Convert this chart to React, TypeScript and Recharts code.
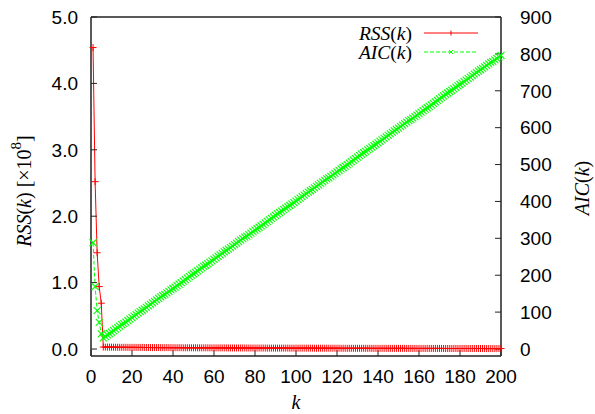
import React from 'react';
import { LineChart, Line, XAxis, YAxis, ReferenceLine, Label } from 'recharts';

// RSS(k) in units of 1e8, k = 1..200
const rss = [
  4.54, 2.52, 1.45, 0.94, 0.69, 0.030, 0.029, 0.029, 0.028, 0.028,
  0.027, 0.027, 0.027, 0.026, 0.026, 0.026, 0.026, 0.025, 0.025, 0.025,
  0.025, 0.024, 0.024, 0.024, 0.024, 0.023, 0.023, 0.023, 0.023, 0.022,
  0.022, 0.022, 0.022, 0.021, 0.021, 0.021, 0.021, 0.021, 0.020, 0.020,
  0.020, 0.020, 0.020, 0.020, 0.019, 0.019, 0.019, 0.019, 0.019, 0.019,
  0.019, 0.018, 0.018, 0.018, 0.018, 0.018, 0.018, 0.018, 0.017, 0.017,
  0.017, 0.017, 0.017, 0.017, 0.017, 0.017, 0.016, 0.016, 0.016, 0.016,
  0.016, 0.016, 0.016, 0.016, 0.016, 0.015, 0.015, 0.015, 0.015, 0.015,
  0.015, 0.015, 0.015, 0.015, 0.015, 0.014, 0.014, 0.014, 0.014, 0.014,
  0.014, 0.014, 0.014, 0.014, 0.014, 0.014, 0.013, 0.013, 0.013, 0.013,
  0.013, 0.013, 0.013, 0.013, 0.013, 0.013, 0.013, 0.013, 0.012, 0.012,
  0.012, 0.012, 0.012, 0.012, 0.012, 0.012, 0.012, 0.012, 0.012, 0.012,
  0.012, 0.011, 0.011, 0.011, 0.011, 0.011, 0.011, 0.011, 0.011, 0.011,
  0.011, 0.011, 0.011, 0.011, 0.011, 0.011, 0.010, 0.010, 0.010, 0.010,
  0.010, 0.010, 0.010, 0.010, 0.010, 0.010, 0.010, 0.010, 0.010, 0.010,
  0.010, 0.010, 0.010, 0.009, 0.009, 0.009, 0.009, 0.009, 0.009, 0.009,
  0.009, 0.009, 0.009, 0.009, 0.009, 0.009, 0.009, 0.009, 0.009, 0.009,
  0.009, 0.008, 0.008, 0.008, 0.008, 0.008, 0.008, 0.008, 0.008, 0.008,
  0.008, 0.008, 0.008, 0.008, 0.008, 0.008, 0.008, 0.008, 0.008, 0.008,
  0.008, 0.007, 0.007, 0.007, 0.007, 0.007, 0.007, 0.007, 0.007, 0.007,
];

// AIC(k), k = 1..200
const aic = [
  288, 169, 104, 72, 41, 30, 34, 38, 42, 46,
  50, 54, 58, 62, 66, 69, 73, 77, 81, 85,
  89, 93, 97, 101, 105, 109, 113, 117, 121, 125,
  129, 133, 137, 141, 145, 148, 152, 156, 160, 164,
  168, 172, 176, 180, 184, 188, 192, 196, 200, 204,
  208, 212, 216, 220, 224, 227, 231, 235, 239, 243,
  247, 251, 255, 259, 263, 267, 271, 275, 279, 283,
  287, 291, 295, 299, 303, 306, 310, 314, 318, 322,
  326, 330, 334, 338, 342, 346, 350, 354, 358, 362,
  366, 370, 374, 378, 382, 385, 389, 393, 397, 401,
  405, 409, 413, 417, 421, 425, 429, 433, 437, 441,
  445, 449, 453, 457, 461, 464, 468, 472, 476, 480,
  484, 488, 492, 496, 500, 504, 508, 512, 516, 520,
  524, 528, 532, 536, 540, 543, 547, 551, 555, 559,
  563, 567, 571, 575, 579, 583, 587, 591, 595, 599,
  603, 607, 611, 615, 619, 622, 626, 630, 634, 638,
  642, 646, 650, 654, 658, 662, 666, 670, 674, 678,
  682, 686, 690, 694, 698, 701, 705, 709, 713, 717,
  721, 725, 729, 733, 737, 741, 745, 749, 753, 757,
  761, 765, 769, 773, 777, 780, 784, 788, 792, 796,
];

const xTicks = [0, 20, 40, 60, 80, 100, 120, 140, 160, 180, 200];
const leftTicks = [0, 1, 2, 3, 4, 5];
const rightTicks = [0, 100, 200, 300, 400, 500, 600, 700, 800, 900];

const data = rss.map((v, i) => ({ k: i + 1, rss: v, aic: aic[i] }));

const RED = '#ff0000';
const GREEN = '#00ff00';
const SANS = '"Liberation Sans", Arial, sans-serif';
const SERIF = '"Liberation Serif", "Times New Roman", serif';

const tickStyle = { fill: '#000', fontSize: 19, fontFamily: SANS };
const frame = { stroke: '#222', strokeWidth: 1.5 };

const PlusDot = (props: any) => {
  const { cx, cy, index } = props;
  if (cx == null || cy == null) return null;
  return (
    <path key={`p-${index}`} d={`M${cx - 3.5},${cy}h7M${cx},${cy - 3.5}v7`} stroke={RED} strokeWidth={1} fill="none" />
  );
};

const CrossDot = (props: any) => {
  const { cx, cy, index } = props;
  if (cx == null || cy == null) return null;
  return (
    <path
      key={`x-${index}`}
      d={`M${cx - 3.5},${cy - 3.5}l7,7M${cx - 3.5},${cy + 3.5}l7,-7`}
      stroke={GREEN}
      strokeWidth={1.1}
      fill="none"
    />
  );
};

const LeftLabel = () => (
  <text x={24} y={191} transform="rotate(-90, 24, 191)" textAnchor="middle" dominantBaseline="central" fontFamily={SERIF} fontSize={20} fill="#000">
    <tspan fontStyle="italic">RSS</tspan>
    <tspan>(</tspan>
    <tspan fontStyle="italic">k</tspan>
    <tspan>) [×10</tspan>
    <tspan dy={-8} fontSize={15}>8</tspan>
    <tspan dy={8}>]</tspan>
  </text>
);

const RightLabel = () => (
  <text x={582} y={188} transform="rotate(-90, 582, 188)" textAnchor="middle" dominantBaseline="central" fontFamily={SERIF} fontSize={20} fill="#000">
    <tspan fontStyle="italic">AIC</tspan>
    <tspan>(</tspan>
    <tspan fontStyle="italic">k</tspan>
    <tspan>)</tspan>
  </text>
);

const BottomLabel = () => (
  <text x={296} y={402} textAnchor="middle" dominantBaseline="central" fontFamily={SERIF} fontSize={20} fontStyle="italic" fill="#000">
    k
  </text>
);

const legendRows = [
  { name: 'RSS', color: RED, dash: undefined as string | undefined, marker: 'plus', y: 33 },
  { name: 'AIC', color: GREEN, dash: '4 2', marker: 'cross', y: 52 },
];

// legend drawn as an svg overlay in the top-right of the plot
const LegendBox = () => (
  <svg width={595} height={80} style={{ position: 'absolute', left: 0, top: 0, pointerEvents: 'none' }}>
    {legendRows.map((r) => (
      <g key={r.name}>
        <text x={412} y={r.y} textAnchor="end" dominantBaseline="central" fontFamily={SERIF} fontSize={19.5} fill="#000">
          <tspan fontStyle="italic">{r.name}</tspan>
          <tspan>(</tspan>
          <tspan fontStyle="italic">k</tspan>
          <tspan>)</tspan>
        </text>
        <line x1={424} y1={r.y} x2={478} y2={r.y} stroke={r.color} strokeWidth={1} strokeDasharray={r.dash} />
        {r.marker === 'plus' ? (
          <path d={`M451,${r.y - 2.5}v5`} stroke={r.color} strokeWidth={1} />
        ) : (
          <path d={`M449,${r.y - 2}l4,4M449,${r.y + 2}l4,-4`} stroke={r.color} strokeWidth={1} />
        )}
      </g>
    ))}
  </svg>
);

export default function App() {
  return (
    <div style={{ position: 'absolute', left: 0, top: 0, width: 595, height: 414, background: '#fff' }}>
      <LineChart width={595} height={414} data={data} margin={{ top: 17, right: 0, bottom: 0, left: 0 }}>
        <XAxis
          dataKey="k"
          type="number"
          domain={[0, 200]}
          ticks={xTicks}
          interval={0}
          height={58}
          tickSize={-6}
          tickMargin={20}
          axisLine={frame}
          tickLine={{ stroke: '#222' }}
          tick={tickStyle}
        >
          <Label content={<BottomLabel />} />
        </XAxis>
        <YAxis
          yAxisId="left"
          domain={[-0.105, 5]}
          ticks={leftTicks}
          interval={0}
          width={91}
          tickSize={-6}
          tickMargin={19}
          tickFormatter={(v: number) => v.toFixed(1)}
          axisLine={frame}
          tickLine={{ stroke: '#222' }}
          tick={tickStyle}
          allowDataOverflow
        >
          <Label content={<LeftLabel />} />
        </YAxis>
        <YAxis
          yAxisId="right"
          orientation="right"
          domain={[-19, 900]}
          ticks={rightTicks}
          interval={0}
          width={94}
          tickSize={-6}
          tickMargin={25}
          axisLine={frame}
          tickLine={{ stroke: '#222' }}
          tick={tickStyle}
          allowDataOverflow
        >
          <Label content={<RightLabel />} />
        </YAxis>
        <ReferenceLine yAxisId="left" y={5} stroke="#222" strokeWidth={1.5} />
        <Line
          yAxisId="left"
          type="linear"
          dataKey="rss"
          stroke={RED}
          strokeWidth={1}
          dot={PlusDot}
          activeDot={false}
          isAnimationActive={false}
        />
        <Line
          yAxisId="right"
          type="linear"
          dataKey="aic"
          stroke={GREEN}
          strokeWidth={1}
          strokeDasharray="4 2"
          dot={CrossDot}
          activeDot={false}
          isAnimationActive={false}
        />
      </LineChart>
      <LegendBox />
    </div>
  );
}
